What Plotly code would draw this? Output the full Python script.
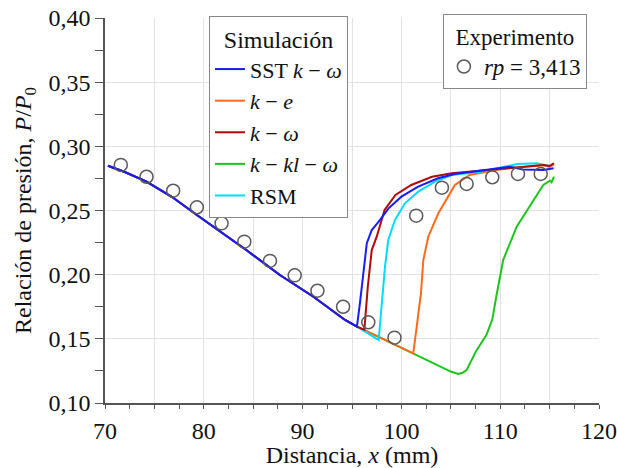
import plotly.graph_objects as go

# Common descending part shared by all simulations
base_x = [70.3, 72.0, 74.2, 76.8, 79.3, 81.8, 84.3, 87.7, 91.1, 94.3, 95.5]
base_y = [0.2849, 0.2800, 0.2725, 0.2605, 0.2465, 0.2330, 0.2192, 0.1997, 0.1828, 0.1647, 0.1595]

sst_x = [95.8, 96.15, 96.5, 97.0, 97.7, 98.7, 100.0, 101.7, 103.7, 105.4, 108.0, 111.0, 112.3, 114.4, 115.4]
sst_y = [0.1777, 0.2036, 0.2245, 0.2348, 0.2413, 0.2517, 0.2608, 0.2686, 0.2751, 0.2785, 0.2810, 0.2841, 0.2820, 0.2816, 0.2830]

ke_x = [97.7, 101.2, 101.55, 101.98, 102.22, 102.72, 103.74, 104.75, 105.42, 106.9, 109.6, 111.7, 114.4, 115.0, 115.45]
ke_y = [0.1515, 0.1387, 0.1595, 0.1855, 0.2114, 0.2296, 0.2478, 0.2608, 0.2699, 0.2777, 0.2816, 0.2836, 0.2855, 0.2840, 0.2862]

kw_x = [96.25, 96.6, 97.0, 97.5, 98.3, 99.4, 101.0, 103.1, 105.1, 108.0, 111.7, 114.4, 115.0, 115.45]
kw_y = [0.1570, 0.1907, 0.2192, 0.2296, 0.2504, 0.2621, 0.2699, 0.2763, 0.2790, 0.2810, 0.2841, 0.2855, 0.2847, 0.2868]

kklw_x = [97.7, 101.2, 103.5, 105.0, 105.76, 106.2, 106.6, 107.6, 108.6, 109.2, 109.6, 110.3, 111.67, 113.0, 114.36, 115.04, 115.2, 115.45]
kklw_y = [0.1515, 0.1387, 0.1305, 0.1245, 0.1226, 0.1235, 0.1257, 0.1410, 0.1530, 0.1650, 0.1828, 0.2114, 0.2374, 0.2530, 0.2699, 0.2732, 0.2720, 0.2764]

rsm_x = [97.7, 98.07, 98.34, 98.67, 99.35, 100.36, 101.71, 103.4, 105.1, 108.0, 111.7, 113.7, 115.0]
rsm_y = [0.1490, 0.1803, 0.2062, 0.2270, 0.2426, 0.2556, 0.2647, 0.2725, 0.2777, 0.2802, 0.2862, 0.2868, 0.2847]

exp_x = [71.6, 74.2, 76.9, 79.3, 81.8, 84.1, 86.7, 89.2, 91.5, 94.1, 96.65, 99.3, 101.5, 104.1, 106.6, 109.2, 111.8, 114.1]
exp_y = [0.2855, 0.2763, 0.2654, 0.2525, 0.2400, 0.2257, 0.2107, 0.1995, 0.1875, 0.1750, 0.1629, 0.1509, 0.2460, 0.2678, 0.2707, 0.2759, 0.2785, 0.2785]

x_tickvals = [70, 75, 80, 85, 90, 95, 100, 105, 110, 115, 120]
x_ticktext = ["70", " ", "80", " ", "90", " ", "100", " ", "110", " ", "120"]

FONT = "Liberation Serif, Times New Roman, serif"

series = [
    # name, tail x, tail y, color, legend rank
    ("<i>k</i> − <i>kl</i> − <i>ω</i>", kklw_x, kklw_y, "#1ec41e", 4),
    ("<i>k</i> − <i>e</i>", ke_x, ke_y, "#ff6a1a", 2),
    ("RSM", rsm_x, rsm_y, "#00dcff", 5),
    ("<i>k</i> − <i>ω</i>", kw_x, kw_y, "#b00a0a", 3),
    ("SST <i>k</i> − <i>ω</i>", sst_x, sst_y, "#1a1aff", 1),
]

fig = go.Figure()
for name, tx, ty, col, rank in series:
    fig.add_trace(go.Scatter(
        x=base_x + tx, y=base_y + ty, mode="lines", name=name,
        line=dict(color=col, width=2), legend="legend", legendrank=rank,
    ))

fig.add_trace(go.Scatter(
    x=exp_x, y=exp_y, mode="markers", name="<i>rp</i> = 3,413",
    marker=dict(symbol="circle-open", size=13, color="#5a5a5a", line=dict(width=1.5)),
    legend="legend2",
))

axis_common = dict(
    showline=True, linecolor="#555555", linewidth=1.5,
    ticks="outside", tickcolor="#555555", tickwidth=1,
    showgrid=True, gridcolor="#e3e3e3", gridwidth=1,
    zeroline=False, mirror=False, automargin=True,
    tickfont=dict(family=FONT, size=24, color="#111111"),
)

fig.update_layout(
    width=617, height=468,
    margin=dict(l=105, r=18, t=18, b=65, autoexpand=False),
    paper_bgcolor="white", plot_bgcolor="white",
    separators=",.",
    font=dict(family=FONT, size=24, color="#111111"),
    xaxis=dict(
        range=[70, 120], tickvals=x_tickvals, ticktext=x_ticktext,
        ticklen=4, ticklabelstandoff=1,
        minor=dict(dtick=2.5, tick0=70, ticks="outside", ticklen=4, tickcolor="#555555", showgrid=False),
        title=dict(text="Distancia, <i>x</i> (mm)", font=dict(family=FONT, size=24), standoff=2),
        **axis_common,
    ),
    yaxis=dict(
        range=[0.10, 0.40], dtick=0.05, tick0=0.10, tickformat=".2f",
        ticklen=8,
        minor=dict(dtick=0.025, tick0=0.10, ticks="outside", ticklen=8, tickcolor="#555555", showgrid=False),
        title=dict(text="Relación de presión, <i>P</i>/<i>P</i><sub>0</sub>", font=dict(family=FONT, size=24), standoff=10),
        **axis_common,
    ),
    legend=dict(
        x=0.2105, y=1.005, xanchor="left", yanchor="top",
        bgcolor="white", bordercolor="#888888", borderwidth=1,
        font=dict(family=FONT, size=22, color="#111111"),
        title=dict(text="Simulación", side="top center", font=dict(family=FONT, size=24)),
        traceorder="normal", tracegroupgap=0, itemwidth=30,
        entrywidth=165, entrywidthmode="pixels",
    ),
    legend2=dict(
        x=0.684, y=1.01, xanchor="left", yanchor="top",
        bgcolor="white", bordercolor="#888888", borderwidth=1,
        font=dict(family=FONT, size=23, color="#111111"),
        title=dict(text="Experimento", side="top center", font=dict(family=FONT, size=23)),
        itemwidth=30, entrywidth=152, entrywidthmode="pixels",
    ),
    showlegend=True,
)

fig.write_html("out.html")
